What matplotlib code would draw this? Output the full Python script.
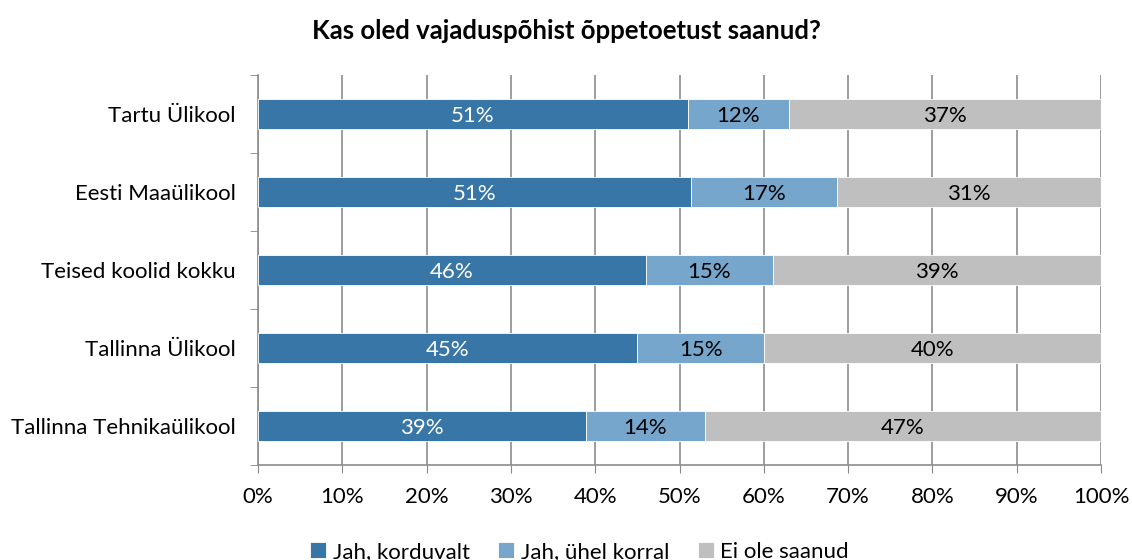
import numpy as np
import matplotlib.pyplot as plt

plt.rcParams['font.family'] = ['Lato', 'DejaVu Sans']

schools = ['Tartu Ülikool', 'Eesti Maaülikool', 'Teised koolid kokku',
           'Tallinna Ülikool', 'Tallinna Tehnikaülikool']
korduvalt = [51.0, 51.4, 46.0, 45.0, 38.9]
uhel_korral = [12.0, 17.3, 15.1, 15.0, 14.1]
ei_ole = [37.0, 31.3, 38.9, 40.0, 47.0]

series_names = ['Jah, korduvalt', 'Jah, ühel korral', 'Ei ole saanud']
colors = ['#3776A6', '#76A6CC', '#BFBFBF']
text_colors = ['white', 'black', 'black']

fig = plt.figure(figsize=(11.32, 5.6), dpi=100)
ax = fig.add_axes([258 / 1132, 1 - 465 / 560, 843 / 1132, 390 / 560])

y = np.arange(len(schools))[::-1]
left = np.zeros(len(schools))
for vals, name, col, tcol in zip([korduvalt, uhel_korral, ei_ole], series_names, colors, text_colors):
    vals = np.array(vals)
    bars = ax.barh(y, vals, left=left, height=0.39, color=col, edgecolor='white',
                   linewidth=0.6, label=name, zorder=3)
    for b, v in zip(bars, vals):
        ax.text(b.get_x() + b.get_width() / 2, b.get_y() + b.get_height() / 2 - 0.02,
                f'{v:.0f}%', ha='center', va='center', color=tcol, fontsize=16, zorder=4)
    left += vals

ax.set_xlim(0, 100)
ax.set_ylim(-0.5, len(schools) - 0.5)
ax.set_xticks(np.arange(0, 101, 10))
ax.set_xticklabels([f'{t}%' for t in range(0, 101, 10)], fontsize=16)
ax.set_yticks(y)
ax.set_yticklabels(schools, fontsize=16)
ax.set_yticks(np.arange(-0.5, len(schools), 1), minor=True)
ax.tick_params(axis='y', which='major', length=0, pad=16)
ax.tick_params(axis='y', which='minor', length=6, color='#888888', direction='out')
ax.tick_params(axis='x', length=6, color='#888888', direction='out', pad=10)

ax.grid(axis='x', color='#8C8C8C', linewidth=1.2, zorder=0)
for side in ['top', 'right']:
    ax.spines[side].set_visible(False)
ax.spines['left'].set_color('#8C8C8C')
ax.spines['bottom'].set_color('#8C8C8C')
ax.spines['left'].set_linewidth(1.2)
ax.spines['bottom'].set_linewidth(1.2)

fig.suptitle('Kas oled vajaduspõhist õppetoetust saanud?', y=1 - 31 / 560,
             va='center', fontsize=18.5, fontweight='bold')

fig.legend(loc='center', bbox_to_anchor=(0.512, 1 - 552 / 560), ncol=3, frameon=False,
           fontsize=16, handlelength=0.7, handleheight=0.7, handletextpad=0.3,
           columnspacing=1.3)

fig.savefig('out.png', dpi=100)
